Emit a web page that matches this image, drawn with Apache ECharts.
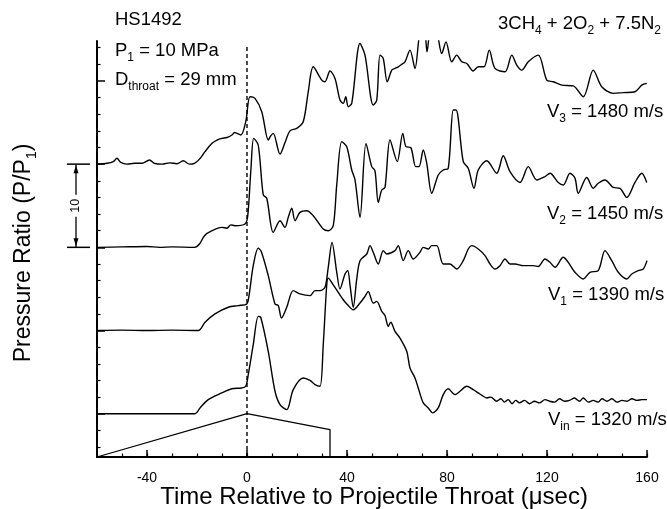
<!DOCTYPE html>
<html><head><meta charset="utf-8">
<script src="https://cdn.jsdelivr.net/npm/echarts@6/dist/echarts.min.js"></script>
<style>html,body{margin:0;padding:0;background:#fff}#c{width:667px;height:509px}</style>
</head><body><div id="c"></div>
<script>
const FONT = '"Liberation Sans", Arial, Helvetica, sans-serif';
const xMin = -60, xMax = 160, yMin = -5.2, yMax = 44.8;
const xLabelTicks = [-40, 0, 40, 80, 120, 160];
const yMajorTicks = [0, 10, 20, 30, 40];
const yMinorTicks = [-4,-2,2,4,6,8,12,14,16,18,22,24,26,28,32,34,36,38,42,44];
const traceOffsets = [0, 10, 20, 30]; // Vin, V1, V2, V3 baselines

// V3 = 1480 m/s
const v3Time = [-60,-56,-53.5,-52,-50.5,-48,-45,-42,-39,-37,-34,-31,-28,-25.5,-23,-21,-19,-16.8,-14,-12,-10,-8,-6,-5,-2.5,-0.5,1.2,3.2,5.9,8.5,9.5,10.5,13.2,15.2,17.2,19.9,22.5,24.5,26.5,29.9,31.2,33.2,35.2,37.2,38.5,39.5,40.5,41.9,45.2,47.2,50.5,51.9,53.2,54.5,56.1,57.9,59.2,60.5,61.9,63.2,65.2,67.2,69.5,71,72,73.5,75.5,77.9,79.6,81.9,83.9,85.9,87.9,90.5,92.5,94.8,96.9,99.2,103.2,105.9,107.9,109.9,112.5,116.5,119.9,122.5,125.9,130.5,134.5,138.5,141.9,146.5,150.5,155.2,157.9,159.9];
const v3Rise = [0,0.1,0.3,0.7,0.2,0,0.1,0.1,0.5,0.1,0,0.15,0.05,0.4,0,0.1,0.6,1.5,2.5,2.9,3.1,3.2,3.5,3.8,3.5,5.1,8.1,7.9,6.3,2.9,3.4,3.7,1.2,2.6,4.0,4.3,5.1,8.7,11.7,10.1,9.9,11.2,10.3,7.7,7.3,8.1,6.9,7.3,14.5,13.1,7.1,7.7,13.1,12.7,9.9,11.3,11.5,11.7,12.0,12.3,13.7,11.5,16,16,13.5,16,16,13.3,14.7,12.3,13.1,12.3,12.1,11.2,11.7,11.7,13.7,11.5,11.1,13.1,11.9,11.3,12.3,13.1,10.1,9.9,9.5,9.4,8.1,11.3,9.3,8.5,8.6,8.7,9.5,9.7];

// V2 = 1450 m/s
const v2Time = [-60,-50,-40,-35,-30,-21,-19,-17,-14,-10.1,-8,-6.5,-4.8,-0.8,0.3,1.6,2.7,4.5,6.5,7.9,10.5,13.2,15.2,16.5,17.9,19.2,21.2,23.9,26.5,30.5,32.5,34.5,35.9,37.9,39.9,41.9,43.2,45.2,47.6,49.9,51.2,52.5,53.9,55.2,57.2,60.1,62.3,63.6,65.5,67.5,68.8,70.5,71.9,73.9,76.5,78.5,80.5,82.5,83.6,86.5,88.5,90.8,92.5,95.9,99.9,102.5,105.2,109.2,112.5,115.9,119.2,121.2,124.5,126.5,129.2,131.2,132.5,135.9,138.5,140.5,143.2,146.5,149.2,151.9,155.2,157.9,159.9];
const v2Rise = [0,0.05,0.1,0,0.05,0,0.4,1.4,2.0,2.4,2.3,2.7,2.6,2.8,3.8,9.5,13.1,12.3,6.3,5.9,1.8,3.2,2.4,3.6,4.7,3.2,4.2,4.4,3.8,2.2,2.0,2.6,7.5,12.7,12.1,9.3,8.1,3.6,12.5,9.7,9.2,5.4,6.9,7.2,12.9,10.3,13.7,12.1,12.0,9.7,9.7,11.7,10.1,6.5,8.7,9.3,9.5,16.5,16.5,10.3,9.5,7.1,9.3,10.4,8.9,11.0,9.1,7.8,9.7,8.1,8.5,8.9,7.8,7.5,8.9,8.3,6.5,8.4,7.1,7.7,8.1,7.2,7.1,6.0,7.8,8.9,7.8];

// V1 = 1390 m/s
const v1Time = [-60,-50,-40,-30,-19.5,-16.8,-12.8,-7.5,-3.5,-0.1,0.8,2.5,4.5,5.7,8.5,11.2,12.5,13.8,15.9,18.5,21.2,25.2,27.2,29.2,31.2,32.5,34.0,35.9,37.2,39.2,40.3,41.2,42.5,43.9,45.2,47.9,49.2,50.5,52.5,54.5,55.9,59.2,60.5,62.5,64.5,66.5,69.2,70.5,72.5,73.9,75.9,78.5,81.2,83.9,86.5,88.5,89.9,92.5,95.2,97.2,99.2,101.2,103.2,105.2,107.2,110.5,114.5,116.5,119.2,121.2,123.2,126.5,128.5,131.2,134.5,137.2,140.5,143.2,145.9,148.5,151.9,153.9,156.5,158.5,160];
const v1Rise = [0,0.05,0,0.05,0,1.0,2.0,2.8,3.0,3.2,4.2,7.8,9.9,9.5,6.6,3.2,3.0,1.5,2.8,4.8,4.4,4.2,4.8,4.8,5.2,7.6,10.6,7.0,5.0,6.8,7.2,5.5,2.8,6.2,8.4,9.2,10.2,9.4,8.0,9.6,9.2,9.6,10.2,8.4,9.6,8.6,9.4,10.0,9.8,10.2,10.2,8.0,8.0,7.4,8.4,9.8,10.2,9.8,9.0,8.0,7.4,7.8,8.6,8.0,8.0,7.8,7.8,7.7,8.6,8.2,7.6,8.8,8.2,7.0,6.2,7.0,7.2,9.6,8.4,7.0,6.2,6.8,7.2,7.4,8.4];

// Vin = 1320 m/s
const vinTime = [-60,-40,-20.8,-18.8,-15.5,-10.1,-6.1,-2.1,-0.5,0.5,2.5,4.5,5.5,8.5,11.2,13.2,15.9,18.5,22.5,25.2,27.2,29.2,30.5,31.9,32.5,34.5,38.5,40.5,42.5,45.2,47.2,48.5,50.5,51.9,53.9,55.2,56.5,57.5,59.2,61.2,63.9,65.2,67.2,68.5,70.5,72.5,74.3,76.5,78.5,80.5,83.2,85.2,87.9,90.5,92.5,94,95.9,97.5,99.9,101.5,103,104.5,106,107.5,109,111,113,115,117,119.2,121,123,125,127,129,131,133,134.5,136.5,138.5,140.5,142,144,146,148,150,152,154,156,158,160];
const vinRise = [0,0,0,0.7,1.7,2.5,3.0,3.1,3.3,4.7,8.3,11.7,11.6,7.5,2.7,1.1,0.5,2.9,4.3,4.0,3.5,3.3,8.3,15.5,16.3,15.5,13.7,13.0,12.5,13.3,14.1,14.7,13.3,13.5,12.3,11.8,10.5,11.0,9.9,9.1,7.5,5.5,4.3,3.1,1.3,0.7,0.1,0.7,2.3,3.0,2.3,2.7,3.3,2.9,2.5,2.2,1.9,2.0,1.5,1.8,1.4,1.7,1.2,1.6,1.3,1.6,1.2,1.5,1.3,1.7,1.5,1.4,1.8,1.5,1.6,1.9,1.5,1.9,1.4,1.6,1.4,1.8,1.5,1.8,1.4,1.6,1.5,1.8,1.6,1.7,1.7];

// projectile throat outline and throat-arrival marker
const projTime = [-60, 0, 33.2, 33.2];
const projLevel = [-5.2, 0, -1.9, -5.2];
const zeroTime = [0, 0];
const zeroLevel = [-5.2, 44.3];

function pairs(xs, ys, off) { return xs.map((x, i) => [x, ys[i] + off]); }

const traces = [
  pairs(vinTime, vinRise, traceOffsets[0]),
  pairs(v1Time, v1Rise, traceOffsets[1]),
  pairs(v2Time, v2Rise, traceOffsets[2]),
  pairs(v3Time, v3Rise, traceOffsets[3])
];

const chart = echarts.init(document.getElementById('c'), null, {renderer: 'canvas'});
const lineBase = { type: 'line', showSymbol: false, symbol: 'none', smooth: 0.3, clip: true,
  lineStyle: { color: '#000', width: 1.4 }, animation: false, silent: true };

const series = traces.map(d => Object.assign({}, lineBase, { data: d }));
series.push({ type: 'line', showSymbol: false, symbol: 'none', data: pairs(projTime, projLevel, 0),
  lineStyle: { color: '#000', width: 1.3 }, animation: false, silent: true });
series.push({ type: 'line', showSymbol: false, symbol: 'none', data: pairs(zeroTime, zeroLevel, 0),
  lineStyle: { color: '#000', width: 1.4, type: [4, 3] }, animation: false, silent: true });

const option = {
  animation: false,
  backgroundColor: '#fff',
  grid: { left: 97, top: 41, width: 550, height: 416, outerBoundsMode: 'none', containLabel: false },
  xAxis: [
    { type: 'value', min: xMin, max: xMax, position: 'bottom',
      axisLine: { show: true, onZero: false, lineStyle: { color: '#000', width: 2 } },
      axisTick: { show: true, inside: true, length: 7, customValues: xLabelTicks, lineStyle: { color: '#000', width: 1.5 } },
      axisLabel: { show: true, customValues: xLabelTicks, margin: 14, color: '#000', fontSize: 14, fontFamily: FONT },
      splitLine: { show: false } },
    { type: 'value', min: xMin, max: xMax, interval: 10, position: 'bottom', gridIndex: 0,
      axisLine: { show: false, onZero: false }, axisLabel: { show: false }, splitLine: { show: false },
      axisTick: { show: true, inside: true, length: 3.5, lineStyle: { color: '#000', width: 1.2 } } }
  ],
  yAxis: [
    { type: 'value', min: yMin, max: yMax, position: 'left',
      axisLine: { show: true, onZero: false, lineStyle: { color: '#000', width: 2 } },
      axisTick: { show: true, inside: true, length: 8, customValues: yMajorTicks, lineStyle: { color: '#000', width: 1.5 } },
      axisLabel: { show: false }, splitLine: { show: false } },
    { type: 'value', min: yMin, max: yMax, position: 'left', gridIndex: 0,
      axisLine: { show: false, onZero: false }, axisLabel: { show: false }, splitLine: { show: false },
      axisTick: { show: true, inside: true, length: 3.5, customValues: yMinorTicks, lineStyle: { color: '#000', width: 1.2 } } }
  ],
  series: series
};
chart.setOption(option);

function rich(parts, fs, subFs) {
  return {
    text: parts.map(p => (p[1] ? '{s|' : '{n|') + p[0] + '}').join(''),
    rich: {
      n: { fontSize: fs, fontFamily: FONT, fill: '#000', lineHeight: fs + 2 },
      s: { fontSize: subFs, fontFamily: FONT, fill: '#000', lineHeight: subFs, padding: [subFs + 2, 0, 0, 0] }
    }
  };
}
function txt(x, y, parts, fs, subFs, align, rot) {
  const st = rich(parts, fs, subFs || 12);
  st.align = align || 'left';
  st.verticalAlign = 'middle';
  return { type: 'text', x: x, y: y, rotation: rot || 0, silent: true, style: st };
}

const y20 = chart.convertToPixel({ yAxisIndex: 0 }, 20);
const y30 = chart.convertToPixel({ yAxisIndex: 0 }, 30);
const bx = 76;
const yMid = (y20 + y30) / 2;

const graphic = [
  txt(115, 20, [['HS1492']], 18.5),
  txt(115, 51, [['P'], ['1', 1], [' = 10 MPa']], 18.5),
  txt(115, 79.5, [['D'], ['throat', 1], [' = 29 mm']], 18.5),
  txt(498, 24, [['3CH'], ['4', 1], [' + 2O'], ['2', 1], [' + 7.5N'], ['2', 1]], 18.5),
  txt(547, 111.5, [['V'], ['3', 1], [' = 1480 m/s']], 18.5),
  txt(547, 213.5, [['V'], ['2', 1], [' = 1450 m/s']], 18.5),
  txt(548, 295, [['V'], ['1', 1], [' = 1390 m/s']], 18.5),
  txt(548, 420, [['V'], ['in', 1], [' = 1320 m/s']], 18.5),
  txt(374, 497, [['Time Relative to Projectile Throat (μsec)']], 24, 14, 'center'),
  txt(24, 253, [['Pressure Ratio (P/P'], ['1', 1], [')']], 23, 14, 'center', Math.PI / 2),
  // scale bar (10 units)
  { type: 'line', silent: true, shape: { x1: 67, y1: y30, x2: 90, y2: y30 }, style: { stroke: '#000', lineWidth: 1.5 } },
  { type: 'line', silent: true, shape: { x1: 67, y1: y20, x2: 90, y2: y20 }, style: { stroke: '#000', lineWidth: 1.5 } },
  { type: 'line', silent: true, shape: { x1: bx, y1: y30, x2: bx, y2: yMid - 11 }, style: { stroke: '#000', lineWidth: 1.3 } },
  { type: 'line', silent: true, shape: { x1: bx, y1: yMid + 11, x2: bx, y2: y20 }, style: { stroke: '#000', lineWidth: 1.3 } },
  { type: 'polygon', silent: true, shape: { points: [[bx, y30 + 1], [bx - 2.5, y30 + 9], [bx + 2.5, y30 + 9]] }, style: { fill: '#000' } },
  { type: 'polygon', silent: true, shape: { points: [[bx, y20 - 1], [bx - 2.5, y20 - 9], [bx + 2.5, y20 - 9]] }, style: { fill: '#000' } },
  { type: 'text', silent: true, x: bx, y: yMid, rotation: Math.PI / 2,
    style: { text: '10', fontSize: 12.5, fontFamily: FONT, fill: '#000', align: 'center', verticalAlign: 'middle' } }
];
chart.setOption({ graphic: graphic });
</script>
</body></html>
